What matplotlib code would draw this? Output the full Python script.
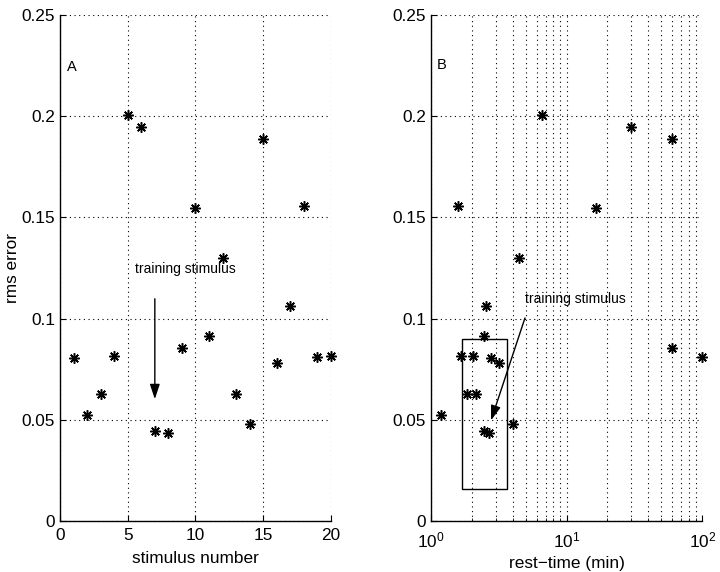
import matplotlib
matplotlib.use('agg')
import matplotlib.pyplot as plt
from matplotlib.patches import Rectangle

plt.rcParams['font.family'] = ['Liberation Sans', 'DejaVu Sans']

# rms error for each stimulus (1..20)
stimulus = list(range(1, 21))
rms_err = [0.0805, 0.0523, 0.0625, 0.0815, 0.2005, 0.1949, 0.0443, 0.0436, 0.0856, 0.1546,
           0.0913, 0.1300, 0.0625, 0.0477, 0.1887, 0.0780, 0.1062, 0.1556, 0.0809, 0.0816]
# rest time (min) before each stimulus
rest_time = [2.77, 1.185, 1.85, 1.66, 6.62, 29.6, 2.47, 2.69, 60.1, 16.6,
             2.46, 4.48, 2.13, 4.04, 60.1, 3.17, 2.54, 1.59, 98.9, 2.03]

yticks = [0, 0.05, 0.1, 0.15, 0.2, 0.25]
ytick_labels = ['0', '0.05', '0.1', '0.15', '0.2', '0.25']
xticks_a = [0, 5, 10, 15, 20]

# box around the short rest-time group in panel B
box_x = [1.68, 3.63]
box_y = [0.016, 0.090]

fig = plt.figure(figsize=(7.2, 5.72), dpi=100)
axA = fig.add_axes([0.0833, 0.0892, 0.3764, 0.8846])
axB = fig.add_axes([0.5986, 0.0892, 0.3768, 0.8846])

grid_kw = dict(color='k', linestyle=(0, (1, 3.2)), linewidth=0.8)
marker = (8, 2, 0)

for ax in (axA, axB):
    for s in ('top', 'right'):
        ax.spines[s].set_visible(False)
    ax.spines['left'].set_linewidth(1.0)
    ax.spines['bottom'].set_linewidth(1.0)
    ax.set_ylim(0, 0.25)
    ax.set_yticks(yticks)
    ax.set_yticklabels(ytick_labels)
    ax.tick_params(direction='in', length=4, width=0.8, labelsize=12.4)
    ax.tick_params(axis='x', pad=5)
    ax.tick_params(which='minor', direction='in', length=2.5, width=0.6)
    ax.set_axisbelow(True)

# panel A
axA.plot(stimulus, rms_err, linestyle='none', marker=marker, markersize=7.5,
         markeredgewidth=1.1, color='k', clip_on=False)
axA.set_xlim(0, 20)
axA.set_xticks(xticks_a)
axA.grid(True, **grid_kw)
axA.set_xlabel('stimulus number', fontsize=12.4, labelpad=6)
axA.set_ylabel('rms error', fontsize=12.4, labelpad=1)
axA.text(0.55, 0.2245, 'A', fontsize=10.5, ha='left', va='center')
axA.text(5.53, 0.1247, 'training stimulus', fontsize=10, ha='left', va='center')
axA.annotate('', xy=(7, 0.0602), xytext=(7, 0.1098),
             arrowprops=dict(arrowstyle='-|>,head_length=0.6,head_width=0.2',
                             mutation_scale=15, color='k', lw=1.0,
                             shrinkA=0, shrinkB=0))

# panel B
axB.set_xscale('log')
axB.tick_params(axis='x', pad=7)
axB.plot(rest_time, rms_err, linestyle='none', marker=marker, markersize=7.5,
         markeredgewidth=1.1, color='k', clip_on=False)
axB.set_xlim(1, 100)
axB.grid(True, which='major', **grid_kw)
axB.grid(True, which='minor', axis='x', **grid_kw)
axB.set_xlabel('rest\u2212time (min)', fontsize=12.4, labelpad=4)
axB.text(1.11, 0.2252, 'B', fontsize=10.5, ha='left', va='center')
axB.add_patch(Rectangle((box_x[0], box_y[0]), box_x[1] - box_x[0], box_y[1] - box_y[0],
                        fill=False, edgecolor='k', linewidth=1.0))
axB.text(4.93, 0.1096, 'training stimulus', fontsize=10, ha='left', va='center')
axB.annotate('', xy=(2.77, 0.0497), xytext=(4.93, 0.1003),
             arrowprops=dict(arrowstyle='-|>,head_length=0.6,head_width=0.2',
                             mutation_scale=15, color='k', lw=1.0,
                             shrinkA=0, shrinkB=0))

fig.savefig('out.png', dpi=100)
